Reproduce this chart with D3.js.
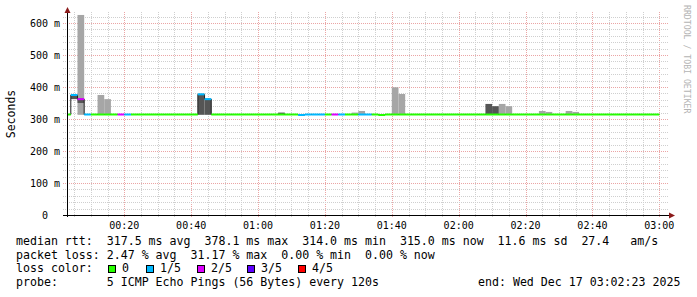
<!DOCTYPE html>
<html>
<head>
<meta charset="utf-8">
<script src="https://cdn.jsdelivr.net/npm/d3@7"></script>
<style>
  body { margin: 0; background: #fff; }
  text { font-family: "DejaVu Sans Mono", monospace; white-space: pre; }
</style>
</head>
<body>
<svg id="chart" width="697" height="297"></svg>
<script>
// one value per 2 minute step, first step starts 00:02
var median = [
  314, 375, 362, 314, 314, 314, 314, 314, 314, 314,
  314, 314, 314, 314, 314, 314, 314, 314, 314, 314,
  377, 362, 314, 314, 314, 314, 314, 314, 314, 314,
  314, 314, 314, 314, 314, 312.5, 314, 314, 314, 314,
  314, 314, 314, 314, 314, 314, 314, 312.5, 314, 314,
  314, 314, 314, 314, 314, 314, 314, 314, 314, 314,
  314, 314, 314, 314, 314, 314, 314, 314, 314, 314,
  314, 314, 314, 314, 314, 314, 314, 314, 314, 314,
  314, 314, 314, 314, 314, 314, 314, 314, 314
];
var loss = [
  0, 1, 2, 1, 0, 0, 0, 0, 2, 1,
  0, 0, 0, 0, 0, 0, 0, 0, 0, 0,
  1, 1, 0, 0, 0, 0, 0, 0, 0, 0,
  0, 0, 0, 0, 0, 1, 1, 1, 1, 0,
  2, 1, 0, 0, 1, 1, 0, 0, 0, 0,
  0, 0, 0, 0, 0, 0, 0, 0, 0, 0,
  0, 0, 0, 0, 0, 0, 0, 0, 0, 0,
  0, 0, 0, 0, 0, 0, 0, 0, 0, 0,
  0, 0, 0, 0, 0, 0, 0, 0, 0
];
// smoke: [step, low ms, high ms]
var smokeLight = [
  [2, 313, 625], [5, 313, 375], [6, 313, 362], [43, 313, 320], [44, 313, 325],
  [49, 313, 399], [50, 313, 378], [65, 313, 347], [66, 313, 340],
  [71, 313, 325], [72, 313, 322], [75, 313, 325], [76, 313, 322]
];
var smokeDark = [
  [1, 362, 374], [2, 350, 362], [20, 313, 377], [21, 313, 362], [32, 313, 320],
  [63, 313, 347], [64, 313, 340]
];
var lossLabels = ["0", "1/5", "2/5", "3/5", "4/5"];
var lossColors = ["#26ff00", "#00b8ff", "#dd00ff", "#5e00ff", "#ff0000"];
var yTicks = [0, 100, 200, 300, 400, 500, 600];

var legendLines = [
  "median rtt:  317.5 ms avg  378.1 ms max  314.0 ms min  315.0 ms now  11.6 ms sd  27.4   am/s",
  "packet loss: 2.47 % avg  31.17 % max  0.00 % min  0.00 % now",
  "loss color:",
  "probe:       5 ICMP Echo Pings (56 Bytes) every 120s"
];
var endLabel = "end: Wed Dec 17 03:02:23 2025";

var svg = d3.select("#chart");
var day = Date.UTC(2025, 11, 17);
function at(min) { return new Date(day + min * 60000); }

var plotLeft = 67, plotRight = 668, plotTop = 14, plotBottom = 215;
var pxPerMin = 535 / 160;
var x = d3.scaleUtc()
    .domain([at(20 - (124.3 - plotLeft) / pxPerMin), at(20 + (plotRight - 124.3) / pxPerMin)])
    .range([plotLeft, plotRight]);
var y = d3.scaleLinear().domain([0, 628]).range([plotBottom, plotTop]);

svg.append("rect").attr("width", 697).attr("height", 297).attr("fill", "#fff");

// grid
var grid = svg.append("g");
for (var m = 5; m <= 180; m += 5) {
  var major = m % 20 == 0;
  var gx = Math.round(x(at(m))) + 0.5;
  grid.append("line")
      .attr("x1", gx).attr("x2", gx).attr("y1", plotBottom + 2).attr("y2", 12)
      .attr("stroke", major ? "#eba5a5" : "#cfcfcf")
      .attr("stroke-dasharray", "1,1");
}
for (var v = 20; v <= 620; v += 20) {
  var majorY = v % 100 == 0;
  var gy = Math.round(y(v)) + 0.5;
  grid.append("line")
      .attr("x1", plotLeft - 4).attr("x2", plotRight + 1).attr("y1", gy).attr("y2", gy)
      .attr("stroke", majorY ? "#eba5a5" : "#cfcfcf")
      .attr("stroke-dasharray", "1,1");
}

function stepX0(k) { return x(at(2 + 2 * k)); }
function stepX1(k) { return x(at(4 + 2 * k)); }
function clipX(v) { return Math.max(plotLeft, v); }

// smoke
svg.append("g").selectAll("rect").data(smokeLight).enter().append("rect")
    .attr("x", function (d) { return clipX(stepX0(d[0])); })
    .attr("width", function (d) { return stepX1(d[0]) - clipX(stepX0(d[0])); })
    .attr("y", function (d) { return y(d[2]); })
    .attr("height", function (d) { return y(d[1]) - y(d[2]); })
    .attr("fill", "#a6a6a6");
svg.append("g").selectAll("rect").data(smokeDark).enter().append("rect")
    .attr("x", function (d) { return clipX(stepX0(d[0])); })
    .attr("width", function (d) { return stepX1(d[0]) - clipX(stepX0(d[0])); })
    .attr("y", function (d) { return y(d[2]); })
    .attr("height", function (d) { return y(d[1]) - y(d[2]); })
    .attr("fill", "#555555");

// median line
var pts = [];
median.forEach(function (v, k) {
  pts.push([clipX(stepX0(k)), y(v)]);
  pts.push([stepX1(k), y(v)]);
});
svg.append("path")
    .attr("d", d3.line()(pts))
    .attr("fill", "none")
    .attr("stroke", "#202020")
    .attr("stroke-width", 1);

// loss coloured segments
svg.append("g").selectAll("line").data(median).enter().append("line")
    .attr("x1", function (d, k) { return clipX(stepX0(k)); })
    .attr("x2", function (d, k) { return stepX1(k); })
    .attr("y1", function (d) { return y(d); })
    .attr("y2", function (d) { return y(d); })
    .attr("stroke", function (d, k) { return lossColors[loss[k]]; })
    .attr("stroke-width", 2);

// axes
svg.append("line").attr("x1", plotLeft + 0.5).attr("x2", plotLeft + 0.5)
    .attr("y1", plotBottom + 2).attr("y2", 11).attr("stroke", "#000");
svg.append("line").attr("x1", plotLeft - 4).attr("x2", plotRight + 1)
    .attr("y1", plotBottom + 0.5).attr("y2", plotBottom + 0.5).attr("stroke", "#000");
svg.append("path").attr("d", "M" + (plotLeft - 2.5) + ",13 L" + (plotLeft + 0.5) + ",7 L" + (plotLeft + 3.5) + ",13 Z")
    .attr("fill", "#8b1a1a");
svg.append("path").attr("d", "M" + (plotRight + 1) + "," + (plotBottom - 2.5) + " L" + (plotRight + 7) + "," + (plotBottom + 0.5) +
    " L" + (plotRight + 1) + "," + (plotBottom + 3.5) + " Z")
    .attr("fill", "#8b1a1a");

// tick labels
var xTicks = d3.range(20, 181, 20).map(at);
svg.append("g").selectAll("text").data(xTicks).enter().append("text")
    .attr("x", function (d) { return x(d); })
    .attr("y", 228.5)
    .attr("text-anchor", "middle")
    .attr("font-size", 10)
    .attr("fill", "#000")
    .text(d3.utcFormat("%H:%M"));
svg.append("g").selectAll("text").data(yTicks).enter().append("text")
    .attr("x", 60)
    .attr("y", function (d) { return y(d) + 3.7; })
    .attr("text-anchor", "end")
    .attr("font-size", 10)
    .attr("fill", "#000")
    .text(function (d) { return d == 0 ? "0  " : d + " m"; });

svg.append("text")
    .attr("transform", "translate(15,114) rotate(-90)")
    .attr("text-anchor", "middle")
    .attr("font-size", 11.5)
    .text("Seconds");

svg.append("text")
    .attr("transform", "translate(684,5) rotate(90)")
    .attr("font-size", 8.2)
    .attr("fill", "#b4b4b4")
    .text("RRDTOOL / TOBI OETIKER");

// legend
svg.append("g").selectAll("text").data(legendLines).enter().append("text")
    .attr("x", 16)
    .attr("y", function (d, i) { return 245 + i * 13.7; })
    .attr("font-size", 11.6)
    .text(function (d) { return d; });
svg.append("text")
    .attr("x", 478)
    .attr("y", 245 + 3 * 13.7)
    .attr("font-size", 11.6)
    .text(endLabel);

var boxX = [108, 146, 197, 247, 298];
var lg = svg.append("g").selectAll("g").data(lossLabels).enter().append("g");
lg.append("rect")
    .attr("x", function (d, i) { return boxX[i] + 0.5; })
    .attr("y", 265.5)
    .attr("width", 7).attr("height", 7)
    .attr("fill", function (d, i) { return lossColors[i]; })
    .attr("stroke", "#000");
lg.append("text")
    .attr("x", function (d, i) { return boxX[i] + 14; })
    .attr("y", 245 + 2 * 13.7)
    .attr("font-size", 11.6)
    .text(function (d) { return d; });
</script>
</body>
</html>
